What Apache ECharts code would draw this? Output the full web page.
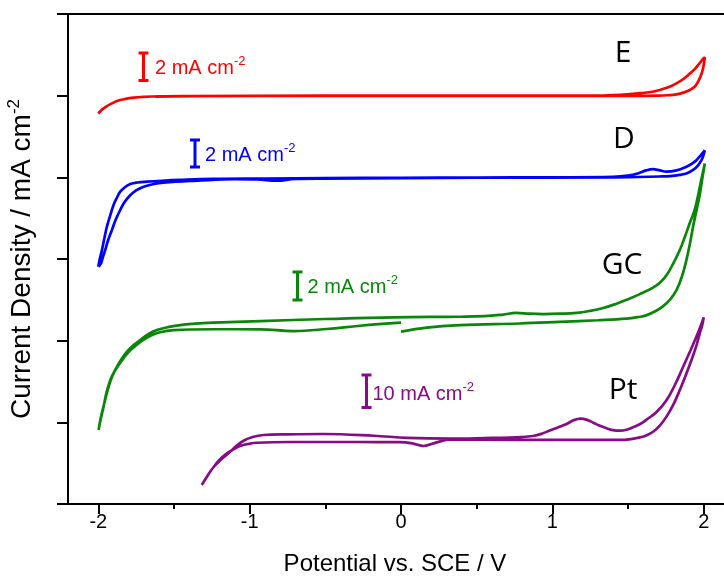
<!DOCTYPE html>
<html><head><meta charset="utf-8">
<script src="https://cdn.jsdelivr.net/npm/echarts@6/dist/echarts.min.js"></script>
<style>html,body{margin:0;padding:0;background:#fff}#c{width:724px;height:578px}</style>
</head><body><div id="c"></div>
<script>
// ---- axis ticks ----
const xTicks = [-2, -1, 0, 1, 2];
const xMinorTicks = [-1.5, -0.5, 0.5, 1.5];

// ---- series (potential V vs SCE, current in offset tick units) ----
const eV = [-2.000, -1.975, -1.945, -1.910, -1.877, -1.820, -1.767, -1.700, -1.600, -1.400, -0.500, 0.500, 1.300, 1.450, 1.578, 1.650, 1.710, 1.770, 1.820, 1.870, 1.908, 1.945, 1.974, 1.995, 2.007, 2.003, 1.995, 1.982, 1.962, 1.940, 1.908, 1.870, 1.820, 1.760, 1.710, 1.550, 1.400, 0.500, -0.500, -1.400, -1.620];
const eJ = [4.780, 4.830, 4.870, 4.905, 4.935, 4.960, 4.975, 4.985, 4.993, 4.996, 5.000, 5.000, 5.000, 5.010, 5.030, 5.045, 5.070, 5.105, 5.150, 5.210, 5.270, 5.335, 5.400, 5.450, 5.470, 5.410, 5.330, 5.250, 5.170, 5.110, 5.070, 5.040, 5.016, 5.005, 5.000, 4.998, 4.998, 4.998, 4.997, 4.994, 4.988];

const dV = [-2.000, -1.990, -1.977, -1.960, -1.943, -1.920, -1.899, -1.877, -1.855, -1.820, -1.789, -1.740, -1.679, -1.580, -1.459, -1.240, -0.900, -0.500, 0.000, 0.500, 1.000, 1.400, 1.500, 1.570, 1.620, 1.665, 1.710, 1.754, 1.820, 1.886, 1.925, 1.952, 1.980, 2.007, 1.998, 1.985, 1.960, 1.930, 1.890, 1.842, 1.780, 1.710, 1.400, 0.500, 0.000, -0.500, -0.700, -0.820, -0.950, -1.100, -1.349, -1.569, -1.640, -1.700, -1.750, -1.789, -1.825, -1.855, -1.885, -1.910, -1.935, -1.954, -1.970, -1.982, -2.000];
const dJ = [2.905, 3.000, 3.098, 3.250, 3.396, 3.540, 3.661, 3.750, 3.824, 3.885, 3.918, 3.937, 3.947, 3.958, 3.968, 3.980, 3.985, 3.990, 3.995, 3.998, 4.000, 4.005, 4.020, 4.050, 4.085, 4.100, 4.085, 4.070, 4.085, 4.130, 4.170, 4.210, 4.270, 4.330, 4.270, 4.210, 4.140, 4.090, 4.050, 4.030, 4.015, 4.010, 4.000, 3.995, 3.990, 3.985, 3.980, 3.958, 3.975, 3.978, 3.959, 3.935, 3.915, 3.885, 3.840, 3.780, 3.700, 3.600, 3.480, 3.355, 3.230, 3.110, 3.020, 2.947, 2.905];

const gV = [0.000, 0.170, 0.390, 0.785, 1.050, 1.300, 1.490, 1.570, 1.620, 1.680, 1.730, 1.780, 1.820, 1.855, 1.886, 1.910, 1.930, 1.955, 1.975, 1.990, 2.007, 1.985, 1.965, 1.940, 1.908, 1.875, 1.842, 1.800, 1.754, 1.710, 1.665, 1.578, 1.490, 1.420, 1.336, 1.250, 1.160, 1.050, 0.940, 0.850, 0.760, 0.675, 0.550, 0.390, -0.050, -0.500, -0.930, -1.240, -1.380, -1.459, -1.540, -1.613, -1.670, -1.723, -1.770, -1.810, -1.845, -1.877, -1.900, -1.920, -1.945, -1.965, -1.985, -1.998, -1.985, -1.962, -1.940, -1.915, -1.893, -1.870, -1.835, -1.800, -1.755, -1.710, -1.655, -1.600, -1.500, -1.240, -0.930, -0.710, -0.490, -0.270, 0.000];
const gJ = [2.110, 2.160, 2.190, 2.210, 2.230, 2.250, 2.270, 2.290, 2.310, 2.360, 2.420, 2.510, 2.620, 2.780, 2.990, 3.200, 3.400, 3.620, 3.800, 3.980, 4.170, 3.980, 3.800, 3.600, 3.440, 3.270, 3.110, 2.950, 2.800, 2.710, 2.650, 2.570, 2.500, 2.450, 2.400, 2.365, 2.340, 2.330, 2.326, 2.330, 2.340, 2.320, 2.300, 2.293, 2.286, 2.265, 2.240, 2.220, 2.205, 2.190, 2.165, 2.130, 2.080, 2.008, 1.940, 1.865, 1.780, 1.680, 1.600, 1.520, 1.370, 1.190, 1.030, 0.906, 1.040, 1.220, 1.380, 1.530, 1.620, 1.690, 1.780, 1.860, 1.935, 2.000, 2.060, 2.100, 2.130, 2.140, 2.139, 2.118, 2.143, 2.183, 2.220];

const pV = [-1.316, -1.280, -1.239, -1.185, -1.129, -1.085, -1.040, -0.980, -0.909, -0.750, -0.513, -0.180, 0.040, 0.323, 0.600, 0.764, 0.873, 0.930, 0.983, 1.040, 1.094, 1.140, 1.185, 1.230, 1.270, 1.310, 1.358, 1.400, 1.445, 1.490, 1.533, 1.580, 1.620, 1.690, 1.754, 1.810, 1.864, 1.910, 1.952, 1.978, 2.000, 1.990, 1.974, 1.950, 1.919, 1.880, 1.842, 1.800, 1.754, 1.710, 1.665, 1.620, 1.578, 1.520, 1.445, 0.785, 0.323, 0.236, 0.148, 0.080, -0.007, -0.290, -0.733, -0.952, -1.010, -1.063, -1.110, -1.150, -1.200, -1.239];
const pJ = [0.233, 0.340, 0.450, 0.550, 0.640, 0.715, 0.775, 0.820, 0.845, 0.853, 0.857, 0.836, 0.810, 0.800, 0.810, 0.816, 0.833, 0.860, 0.900, 0.940, 0.980, 1.025, 1.045, 1.030, 0.996, 0.960, 0.927, 0.905, 0.898, 0.910, 0.940, 0.980, 1.030, 1.130, 1.270, 1.460, 1.680, 1.870, 2.050, 2.170, 2.286, 2.190, 2.090, 1.930, 1.763, 1.570, 1.396, 1.220, 1.070, 0.960, 0.885, 0.840, 0.816, 0.795, 0.784, 0.784, 0.790, 0.755, 0.710, 0.740, 0.757, 0.759, 0.759, 0.750, 0.735, 0.710, 0.665, 0.620, 0.540, 0.450];

const curveNames = ['E', 'D', 'GC', 'Pt'];
const scaleTexts = ['2 mA cm', '2 mA cm', '2 mA cm', '10 mA cm'];

function pairs(v, j) { return v.map((x, i) => [x, j[i]]); }

const colors = ['#ff0000', '#0000ff', '#0a870a', '#870a87'];
const FONT = '"Liberation Sans", Arial, sans-serif';

const chart = echarts.init(document.getElementById('c'), null, {renderer: 'canvas'});

function lineSeries(name, v, j, color) {
  return {
    name, type: 'line', data: pairs(v, j), showSymbol: false, smooth: 0.4,
    lineStyle: {color, width: 2.7}, clip: false, animation: false
  };
}

function iBar(x, y1, y2, color) {
  const st = {stroke: color, lineWidth: 3};
  return [
    {type: 'line', shape: {x1: x, y1: y1, x2: x, y2: y2}, style: st, silent: true},
    {type: 'line', shape: {x1: x - 5, y1: y1, x2: x + 5, y2: y1}, style: st, silent: true},
    {type: 'line', shape: {x1: x - 5, y1: y2, x2: x + 5, y2: y2}, style: st, silent: true}
  ];
}
function txt(x, y, s, color, size, family, align) {
  return {type: 'text', x, y, silent: true,
    style: {text: s, fill: color, font: size + 'px ' + family,
      textAlign: align || 'left', textVerticalAlign: 'middle', align: align || 'left', verticalAlign: 'middle'}};
}

const graphics = [];
graphics.push(...iBar(143.5, 53, 80.5, colors[0]));
graphics.push(...iBar(195, 140, 167, colors[1]));
graphics.push(...iBar(297.5, 272, 300, colors[2]));
graphics.push(...iBar(366.5, 375, 407.5, colors[3]));
const lblPos = [[155, 68], [205, 155], [307.5, 287], [372.5, 394]];
lblPos.forEach((p, i) => {
  graphics.push({type: 'text', x: p[0], y: p[1], silent: true,
    style: {text: '{a|' + scaleTexts[i] + '}{s|-2}', fill: colors[i],
      rich: {a: {fontSize: 20, fontFamily: FONT, fill: colors[i], color: colors[i]},
             s: {fontSize: 13, fontFamily: FONT, fill: colors[i], color: colors[i], padding: [0, 0, 14, 0]}},
      textVerticalAlign: 'middle', verticalAlign: 'middle'}});
});
const namePos = [[623, 53], [624, 139], [622, 265], [623, 390]];
namePos.forEach((p, i) => graphics.push(txt(p[0], p[1], curveNames[i], '#000', 30, '"Open Sans", sans-serif', 'center')));

chart.setOption({
  animation: false,
  backgroundColor: '#fff',
  grid: {left: 68, top: 14, right: -10, bottom: 74, outerBoundsMode: 'none', containLabel: false,
    show: true, borderColor: '#000', borderWidth: 2, backgroundColor: 'transparent'},
  xAxis: [{
    type: 'value', min: -2.2, max: 2.2, position: 'bottom',
    name: 'Potential vs. SCE / V', nameLocation: 'middle', nameGap: 48,
    nameTextStyle: {fontSize: 24, fontFamily: FONT, color: '#000', padding: [0, 12, 0, 0]},
    axisLine: {show: true, onZero: false, lineStyle: {color: '#000', width: 2}},
    axisTick: {show: true, length: 10, customValues: xTicks, lineStyle: {color: '#000', width: 2}},
    axisLabel: {show: true, customValues: xTicks, margin: 8, fontSize: 20, fontFamily: FONT, color: '#000'},
    splitLine: {show: false}
  }, {
    type: 'value', min: -2.2, max: 2.2, position: 'bottom',
    axisLine: {show: false, onZero: false},
    axisTick: {show: true, length: 5, customValues: xMinorTicks, lineStyle: {color: '#000', width: 2}},
    axisLabel: {show: false}, splitLine: {show: false}
  }],
  yAxis: {
    type: 'value', min: 0, max: 6, interval: 1,
    name: '{a|Current Density / mA cm}{s|-2}', nameLocation: 'middle', nameGap: 29,
    nameTextStyle: {color: '#000', rich: {
      a: {fontSize: 28, fontFamily: FONT, color: '#000'},
      s: {fontSize: 17, fontFamily: FONT, color: '#000', padding: [0, 0, 16, 0]}}},
    axisLine: {show: true, onZero: false, lineStyle: {color: '#000', width: 2}},
    axisTick: {show: true, length: 11, lineStyle: {color: '#000', width: 2}},
    axisLabel: {show: false},
    splitLine: {show: false}
  },
  series: [
    lineSeries('E', eV, eJ, colors[0]),
    lineSeries('D', dV, dJ, colors[1]),
    lineSeries('GC', gV, gJ, colors[2]),
    lineSeries('Pt', pV, pJ, colors[3])
  ],
  graphic: {elements: graphics}
});
</script></body></html>
